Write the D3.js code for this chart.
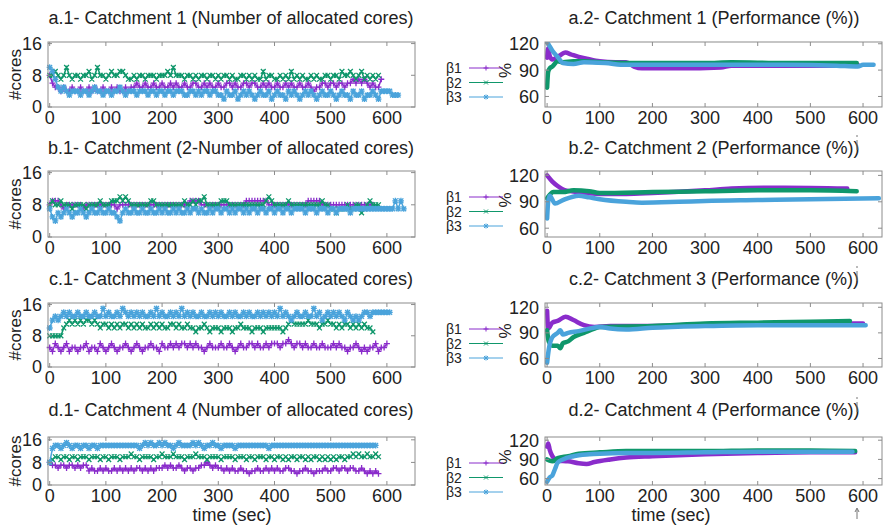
<!DOCTYPE html>
<meta charset="utf-8">
<style>
body { margin: 0; background: #fff; }
text { font-family: "Liberation Sans", Arial, sans-serif; fill: #222; }
.frame { fill: none; stroke: #8c8c8c; stroke-width: 1; }
.tick { stroke: #8c8c8c; stroke-width: 1; }
.title { font-size: 18px; }
.ticklabel { font-size: 18px; }
.ylabel { font-size: 17px; }
.legend text { font-size: 14px; }
.arrow { stroke: #777; fill: none; stroke-width: 1; }
</style>
<svg width="883" height="527"></svg>
<script src="https://d3js.org/d3.v7.min.js"></script>
<script>

// ---- data ----
var betaNames = ["β1", "β2", "β3"];
var betaColors = ["#8a2ccb", "#0f976b", "#4aa3db"];
var coreStep = 5;               // seconds between samples
var coreTicks = [0, 8, 16];
var perfTicks = [60, 90, 120];
var timeTicks = [0, 100, 200, 300, 400, 500, 600];

var coreTitles = [
  "a.1- Catchment 1 (Number of allocated cores)",
  "b.1- Catchment (2-Number of allocated cores)",
  "c.1- Catchment 3 (Number of allocated cores)",
  "d.1- Catchment 4 (Number of allocated cores)"
];
var perfTitles = [
  "a.2- Catchment 1 (Performance (%))",
  "b.2- Catchment 2 (Performance (%))",
  "c.2- Catchment 3 (Performance (%))",
  "d.2- Catchment 4 (Performance (%))"
];

// catchment 1 - cores
var coresA1 = [8,6,5,5,4,5,4,4,5,4, 4,5,4,4,5,4,5,4,4,5, 4,4,5,4,5,4,4,5,4,5, 5,6,5,5,6,5,5,6,5,5,
  6,5,5,6,5,6,5,5,6,5, 5,6,6,5,5,6,5,6,5,5, 6,5,5,6,6,5,6,5,5,6, 6,5,6,6,5,5,6,5,6,5,
  5,6,5,5,6,5,6,5,5,6, 5,5,6,5,4,5,5,6,6,5, 6,6,5,6,6,5,6,6,7,6, 7,6,7,6,5,6,5,5,7];
var coresA2 = [8,8,9,8,7,8,10,8,7,8, 8,7,8,8,9,7,8,10,8,8, 7,8,9,8,8,9,9,8,7,7, 8,7,8,8,7,8,8,8,7,8,
  8,8,9,8,10,8,8,8,7,8, 8,7,8,7,8,8,7,8,8,7, 8,7,8,8,7,8,7,7,8,8, 7,8,7,8,7,7,9,7,8,8,
  7,7,8,7,8,7,9,7,8,7, 8,7,7,8,7,8,7,7,8,8, 7,8,8,7,9,8,8,9,8,7, 8,9,7,8,7,8,7,8];
var coresA3 = [10,9,7,5,4,5,4,3,4,4, 4,3,4,4,3,4,5,4,4,3, 4,4,3,4,4,5,4,3,4,4, 4,3,4,4,4,3,4,4,3,4,
  4,3,4,4,3,4,4,4,3,3, 4,4,3,4,3,4,4,3,4,4, 3,3,2,4,3,3,4,2,3,4, 3,4,3,2,3,4,3,3,4,2,
  3,4,3,3,2,4,3,4,3,2, 3,4,3,4,3,2,3,4,3,3, 4,3,2,3,4,3,3,2,4,3, 3,4,2,3,3,4,3,2,4,4, 4,4,3,3,3];

// catchment 2 - cores
var coresB1 = [8,9,9,9,8,7,8,8,8,8, 8,8,7,8,8,8,8,8,8,8, 8,8,8,8,7,8,8,8,8,8, 8,8,8,8,8,8,8,8,8,8,
  8,8,8,8,8,8,8,8,8,8, 9,9,9,9,8,8,8,8,8,8, 8,8,8,8,8,8,8,8,8,8, 9,9,9,9,9,9,9,9,8,8,
  8,8,8,8,8,8,8,8,8,8, 8,8,9,9,9,9,9,8,8,8, 8,8,8,8,8,8,8,8,8,8, 8,8,8,8,8,8];
var coresB2 = [8,9,8,8,9,8,8,8,7,8, 8,8,8,7,8,8,8,8,9,8, 8,8,9,9,9,10,9,10,9,8, 8,8,8,8,8,8,9,9,8,8,
  8,8,8,8,8,8,8,8,9,8, 8,9,8,9,9,10,8,8,8,8, 8,9,9,9,8,8,8,8,8,8, 8,8,8,8,8,8,8,9,10,9,
  8,8,8,8,8,9,8,8,8,8, 8,8,8,8,8,8,8,9,8,8, 7,7,6,7,7,7,8,7,7,8, 8,6,7,8,9,8,8,8];
var coresB3 = [7,5,4,6,5,6,7,6,5,6, 6,7,6,5,6,7,6,6,7,6, 6,7,6,6,5,4,6,7,6,6, 7,6,6,7,6,6,7,6,6,7,
  6,7,6,6,7,6,7,6,6,7, 6,7,7,6,7,6,6,7,6,7, 7,6,7,7,6,7,6,7,7,6, 7,6,7,7,6,7,7,6,7,7,
  6,7,7,6,7,7,6,7,7,7, 7,6,7,7,7,6,7,7,7,6, 7,7,6,7,7,7,7,6,7,7, 7,7,7,7,7,7,7,7,7,7, 7,7,7,9,7,9,7];

// catchment 3 - cores
var coresC1 = [5,4,6,5,4,5,6,4,5,5, 4,5,5,6,4,5,5,4,6,5, 4,5,6,5,4,5,5,6,5,4, 5,6,5,4,5,5,6,5,5,4,
  6,5,5,6,5,6,5,6,6,5, 6,5,6,5,5,4,5,6,5,5, 5,6,5,5,6,5,4,5,6,5, 5,6,6,5,6,5,5,6,5,6,
  6,6,5,6,6,7,6,5,6,6, 5,6,5,5,6,5,5,6,5,5, 5,6,5,6,5,5,4,5,5,6, 5,4,5,4,5,5,6,4,5,5, 6];
var coresC2 = [8,8,8,8,8,10,11,12,11,12, 11,12,11,12,12,11,12,11,10,11, 11,10,11,10,11,10,11,11,10,11,
  10,11,10,11,10,10,11,10,11,10, 11,10,10,11,11,10,11,10,10,11, 10,10,9,10,10,11,10,9,10,10,
  10,9,10,10,10,9,10,10,11,10, 10,10,9,10,10,10,9,10,10,10, 10,10,10,9,10,11,12,11,11,11,
  11,11,12,11,11,11,10,11,11,12, 11,11,10,11,10,11,11,10,11,10, 11,10,11,10,10,9];
var coresC3 = [10,12,13,12,13,14,13,14,13,13, 14,13,13,14,13,13,14,13,13,15, 13,14,13,13,14,13,15,14,13,14,
  13,14,13,14,13,13,14,13,15,13, 14,13,13,14,13,14,13,15,13,14, 13,14,13,13,14,13,13,14,13,14,
  13,14,13,13,14,13,14,13,13,14, 13,14,13,13,14,13,14,13,14,13, 14,13,15,13,14,13,12,13,14,13,
  13,14,13,13,15,13,14,12,13,14, 13,14,13,14,13,12,14,13,12,13, 12,13,14,14,13,14,14,14,14,14, 14,14];

// catchment 4 - cores
var coresD1 = [8,7,7,6,7,7,6,7,7,6, 7,6,7,7,5,6,5,5,6,5, 6,5,5,6,5,6,5,6,5,6, 5,6,6,5,6,5,6,5,6,6,
  6,7,6,7,6,6,7,6,5,6, 6,5,6,6,7,7,8,7,6,7, 6,6,5,6,5,6,5,5,6,5, 5,4,5,5,6,5,5,6,5,6,
  5,6,5,5,6,6,5,5,4,5, 5,6,5,5,4,5,5,5,6,5, 5,6,6,5,6,6,5,6,6,5, 5,6,5,4,5,4,5,4];
var coresD2 = [8,9,10,10,9,10,10,9,10,10, 9,10,10,10,9,10,10,10,9,10, 10,9,10,10,10,9,10,10,10,11,
  10,10,9,10,10,10,10,9,10,10, 11,10,10,10,11,10,10,10,9,10, 10,10,11,10,10,10,9,10,10,10,
  10,9,10,10,10,10,9,10,10,10, 9,10,10,9,10,10,10,9,10,10, 9,10,10,9,10,9,10,10,9,10,
  10,9,10,9,10,10,9,10,9,10, 9,10,9,10,10,9,10,10,11,10, 11,10,10,11,10,10,11,10];
var coresD3 = [8,13,14,14,13,14,15,14,13,14, 14,13,14,14,13,14,14,13,14,14, 14,14,14,14,14,14,14,14,14,14,
  14,14,13,14,15,14,15,14,14,15, 14,15,14,14,13,14,15,14,14,14, 14,15,14,15,14,13,14,14,15,14,
  14,13,14,14,14,14,13,14,14,14, 14,14,14,14,14,14,14,14,13,14, 14,14,14,14,14,14,14,14,14,14,
  14,14,14,14,14,14,14,14,14,14, 14,14,14,14,14,14,14,14,14,14, 14,14,14,14,14,14,14];

// performance (%), [time, value]
var perfA1 = [[0,104],[2,115],[5,106],[10,102],[20,105],[35,110],[45,108],[60,105],[75,103],[100,100],[130,99],[150,99],[165,94],[180,92],[250,92],[330,93],[350,95],[450,95],[550,95],[590,96]];
var perfA2 = [[0,70],[2,88],[5,92],[10,94],[20,100],[30,99],[50,100],[70,100],[100,99],[200,98],[300,98],[350,99],[450,98],[550,98],[588,98]];
var perfA3 = [[0,122],[3,119],[10,112],[20,105],[30,98],[50,97],[70,99],[110,98],[150,96],[300,96],[450,96],[550,95],[590,94],[600,96],[620,96]];
var perfB1 = [[0,120],[10,113],[20,108],[35,103],[60,101],[100,99],[150,99],[200,100],[300,103],[350,105],[450,106],[570,105]];
var perfB2 = [[0,94],[5,98],[12,101],[30,101],[50,103],[80,102],[100,100],[200,101],[300,102],[400,103],[500,103],[588,102]];
var perfB3 = [[0,71],[2,90],[5,97],[15,88],[30,92],[60,97],[80,95],[100,93],[150,90],[180,89],[250,90],[300,91],[400,92],[500,93],[630,94]];
var perfC1 = [[0,116],[2,95],[10,102],[20,104],[35,109],[50,105],[70,99],[90,97],[120,98],[200,98],[300,100],[400,101],[500,101],[600,101]];
var perfC2 = [[0,93],[3,80],[10,75],[20,75],[25,72],[30,78],[40,80],[50,85],[70,90],[90,95],[100,97],[200,98],[300,101],[400,102],[500,103],[575,104]];
var perfC3 = [[0,55],[3,70],[10,85],[20,90],[25,93],[30,88],[40,90],[60,92],[80,95],[100,97],[120,95],[150,94],[200,96],[300,98],[400,99],[500,99],[605,99]];
var perfD1 = [[0,110],[2,115],[5,105],[10,95],[20,88],[40,87],[60,84],[75,83],[90,86],[120,90],[150,93],[200,95],[300,98],[400,100],[500,101],[585,101]];
var perfD2 = [[0,90],[5,88],[10,87],[20,92],[40,95],[60,99],[100,101],[150,103],[200,103],[300,103],[400,104],[500,104],[585,103]];
var perfD3 = [[0,55],[5,62],[10,65],[15,75],[20,85],[30,90],[50,95],[80,98],[100,99],[150,100],[200,100],[300,101],[400,102],[500,102],[580,102]];

var coreSeries = [[coresA1, coresA2, coresA3], [coresB1, coresB2, coresB3],
                  [coresC1, coresC2, coresC3], [coresD1, coresD2, coresD3]];
var perfSeries = [[perfA1, perfA2, perfA3], [perfB1, perfB2, perfB3],
                  [perfC1, perfC2, perfC3], [perfD1, perfD2, perfD3]];
var arrowRows = [true, true, false, true];

// ---- layout ----
var svg = d3.select("svg");
var rowTop = [42, 171, 303, 437],
    rowBottom = [107, 237, 367, 485],
    titleY = [24, 154, 285, 416];
var leftX = [48, 415], rightX = [545, 882];
var perfDomains = [[48, 122], [50, 125], [50, 125], [50, 125]];

// gnuplot-ish point types: + , x , *
function marker(k, cx, cy, s) {
  var plus = "M" + (cx - s) + "," + cy + "H" + (cx + s) + "M" + cx + "," + (cy - s) + "V" + (cy + s);
  var c = s * 0.8;
  var cross = "M" + (cx - c) + "," + (cy - c) + "L" + (cx + c) + "," + (cy + c) +
              "M" + (cx - c) + "," + (cy + c) + "L" + (cx + c) + "," + (cy - c);
  if (k == 0) return plus;
  if (k == 1) return cross;
  return plus + cross;
}

function frame(g, x, y, xTicks, yTicks, x0, x1, y0, y1) {
  g.append("rect").attr("class", "frame")
    .attr("x", x0).attr("y", y0).attr("width", x1 - x0).attr("height", y1 - y0);
  xTicks.forEach(function(t) {
    g.append("line").attr("class", "tick").attr("x1", x(t)).attr("x2", x(t)).attr("y1", y1).attr("y2", y1 - 4);
    g.append("line").attr("class", "tick").attr("x1", x(t)).attr("x2", x(t)).attr("y1", y0).attr("y2", y0 + 4);
    g.append("text").attr("class", "ticklabel").attr("x", x(t)).attr("y", y1 + 17)
      .attr("text-anchor", "middle").text(t);
  });
  yTicks.forEach(function(t) {
    g.append("line").attr("class", "tick").attr("x1", x0).attr("x2", x0 + 4).attr("y1", y(t)).attr("y2", y(t));
    g.append("line").attr("class", "tick").attr("x1", x1).attr("x2", x1 - 4).attr("y1", y(t)).attr("y2", y(t));
    g.append("text").attr("class", "ticklabel").attr("x", x0 - 6).attr("y", y(t)).attr("dy", "0.36em")
      .attr("text-anchor", "end").text(t);
  });
}

var defs = svg.append("defs");

for (var r = 0; r < 4; r++) {
  // left: allocated cores
  var gl = svg.append("g");
  var xl = d3.scaleLinear().domain([-3, 650]).range(leftX);
  var yl = d3.scaleLinear().domain([0, 16.4]).range([rowBottom[r], rowTop[r]]);
  if (r == 3) yl.domain([0, 17]);

  gl.append("text").attr("class", "title").attr("x", 231).attr("y", titleY[r])
    .attr("text-anchor", "middle").text(coreTitles[r]);
  gl.append("text").attr("class", "ylabel")
    .attr("transform", "translate(21," + ((rowTop[r] + rowBottom[r]) / 2) + ") rotate(-90)")
    .attr("text-anchor", "middle").text("#cores");

  coreSeries[r].forEach(function(vals, k) {
    var pts = vals.map(function(v, i) { return [i * coreStep, v]; });
    gl.append("path")
      .attr("d", d3.line().x(function(d) { return xl(d[0]); }).y(function(d) { return yl(d[1]); })(pts))
      .attr("fill", "none").attr("stroke", betaColors[k]).attr("stroke-width", 1.5);
    gl.append("path")
      .attr("d", pts.map(function(d) { return marker(k, xl(d[0]), yl(d[1]), 3); }).join(""))
      .attr("fill", "none").attr("stroke", betaColors[k]).attr("stroke-width", 1.3);
  });
  frame(gl, xl, yl, timeTicks, coreTicks, leftX[0], leftX[1], rowTop[r], rowBottom[r]);

  if (arrowRows[r]) {
    var ax = xl(600), top = rowTop[r] + (r == 3 ? 3 : 1);
    gl.append("path").attr("class", "arrow")
      .attr("d", "M" + ax + "," + rowBottom[r] + "V" + top +
        "M" + (ax - 3) + "," + (top + 8) + "L" + ax + "," + top + "L" + (ax + 3) + "," + (top + 8));
  }

  // right: performance
  var gr = svg.append("g");
  var xr = d3.scaleLinear().domain([-4, 636]).range(rightX);
  var yr = d3.scaleLinear().domain(perfDomains[r]).range([rowBottom[r], rowTop[r]]);

  gr.append("text").attr("class", "title").attr("x", 714).attr("y", titleY[r])
    .attr("text-anchor", "middle").text(perfTitles[r]);
  gr.append("text").attr("class", "ylabel")
    .attr("transform", "translate(511," + ((rowTop[r] + rowBottom[r]) / 2 - 4) + ") rotate(-90)")
    .attr("text-anchor", "middle").text("%");

  defs.append("clipPath").attr("id", "clip" + r).append("rect")
    .attr("x", rightX[0]).attr("y", rowTop[r]).attr("width", rightX[1] - rightX[0]).attr("height", rowBottom[r] - rowTop[r]);

  var lineR = d3.line().curve(d3.curveMonotoneX)
    .x(function(d) { return xr(d[0]); }).y(function(d) { return yr(d[1]); });
  perfSeries[r].forEach(function(pts, k) {
    gr.append("path").attr("clip-path", "url(#clip" + r + ")")
      .attr("d", lineR(pts)).attr("fill", "none").attr("stroke", betaColors[k])
      .attr("stroke-width", 4.5).attr("stroke-linejoin", "round").attr("stroke-linecap", "round");
  });
  frame(gr, xr, yr, timeTicks, perfTicks, rightX[0], rightX[1], rowTop[r], rowBottom[r]);

  // legend
  var lg = gr.append("g").attr("class", "legend");
  betaNames.forEach(function(name, k) {
    var ly = rowTop[r] + 26 + k * 14.5;
    lg.append("text").attr("x", 446).attr("y", ly).attr("dy", "0.36em").text(name);
    lg.append("line").attr("x1", 469).attr("x2", 503).attr("y1", ly).attr("y2", ly)
      .attr("stroke", betaColors[k]).attr("stroke-width", 1);
    lg.append("path").attr("d", marker(k, 486, ly, 2.5)).attr("fill", "none").attr("stroke", betaColors[k]);
  });

  // stray arrow marks near the right titles
  if (r > 0) {
    gr.append("path").attr("class", "arrow").attr("stroke", "#999")
      .attr("d", "M857," + (titleY[r] - 4) + "V" + (titleY[r] - 14) + "M856," + (titleY[r] - 18) + "h2");
  }
}

// x axis labels
svg.append("text").attr("class", "title").attr("x", 232).attr("y", 521).attr("text-anchor", "middle").text("time (sec)");
svg.append("text").attr("class", "title").attr("x", 671).attr("y", 521).attr("text-anchor", "middle").text("time (sec)");
svg.append("path").attr("class", "arrow").attr("stroke", "#999").attr("d", "M857,519V509M855,512L857,508L859,512");

</script>
